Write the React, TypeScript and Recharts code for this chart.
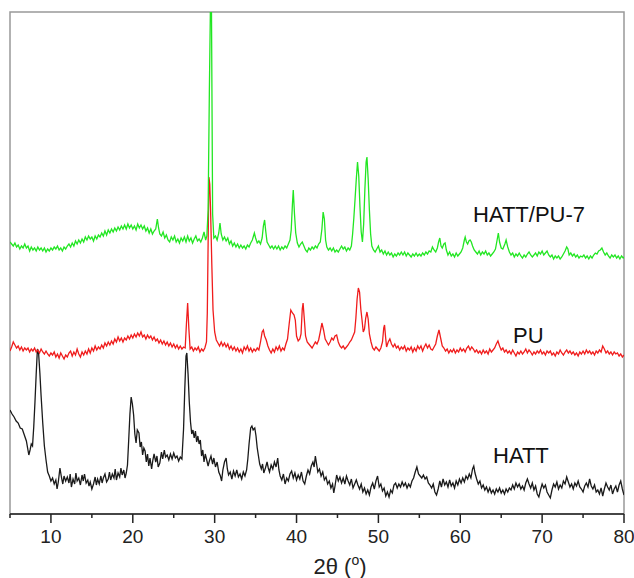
import React from 'react';
import { LineChart, Line, XAxis, YAxis, ReferenceArea } from 'recharts';

// 2θ (deg) vs intensity (arbitrary, patterns stacked with offsets)
const xTicks = [5, 10, 15, 20, 25, 30, 35, 40, 45, 50, 55, 60, 65, 70, 75, 80];

const hattPoints: [number, number][] = [
  [5.0, 104], [5.25, 100], [5.5, 97], [5.75, 93], [6.0, 91], [6.25, 86], [6.5, 85], [6.75, 79], [7.0, 73], [7.15, 66],
  [7.3, 59], [7.45, 64], [7.6, 70], [7.75, 68], [7.9, 87], [8.05, 112], [8.2, 140], [8.35, 165], [8.5, 160], [8.65, 141],
  [8.8, 118], [9.0, 91], [9.2, 68], [9.4, 54], [9.6, 42], [9.8, 38], [10.0, 33], [10.2, 36], [10.4, 30], [10.6, 34],
  [10.75, 25], [10.9, 32], [11.1, 46], [11.3, 36], [11.45, 30], [11.6, 38], [11.8, 33], [12.0, 37], [12.2, 31], [12.35, 40],
  [12.5, 27], [12.7, 35], [12.9, 30], [13.05, 41], [13.2, 33], [13.4, 36], [13.6, 29], [13.8, 39], [13.95, 33], [14.1, 40],
  [14.3, 31], [14.5, 34], [14.65, 28], [14.8, 32], [15.0, 25], [15.2, 30], [15.4, 37], [15.55, 29], [15.7, 35], [15.9, 30],
  [16.1, 38], [16.25, 31], [16.4, 36], [16.6, 40], [16.8, 32], [17.0, 35], [17.15, 42], [17.3, 34], [17.5, 40], [17.7, 36],
  [17.85, 45], [18.0, 34], [18.2, 41], [18.4, 37], [18.55, 46], [18.7, 39], [18.9, 44], [19.05, 36], [19.2, 41], [19.35, 49],
  [19.5, 74], [19.65, 100], [19.8, 117], [19.95, 110], [20.1, 99], [20.25, 80], [20.4, 71], [20.55, 84], [20.75, 81], [20.9, 67],
  [21.05, 72], [21.2, 59], [21.35, 66], [21.5, 63], [21.65, 52], [21.8, 60], [21.95, 48], [22.1, 56], [22.3, 45], [22.45, 54],
  [22.6, 60], [22.8, 52], [22.95, 58], [23.1, 47], [23.3, 51], [23.5, 62], [23.65, 55], [23.85, 64], [24.0, 57], [24.2, 59],
  [24.4, 54], [24.6, 60], [24.8, 55], [25.0, 61], [25.2, 56], [25.4, 58], [25.6, 53], [25.8, 57], [26.0, 55], [26.2, 85],
  [26.35, 125], [26.5, 158], [26.6, 161], [26.75, 140], [26.9, 112], [27.05, 92], [27.2, 80], [27.35, 84], [27.5, 76], [27.65, 83],
  [27.8, 72], [27.95, 78], [28.1, 70], [28.25, 74], [28.4, 58], [28.55, 64], [28.7, 52], [28.85, 60], [29.0, 55], [29.2, 48],
  [29.35, 53], [29.55, 58], [29.75, 50], [29.9, 56], [30.1, 47], [30.3, 52], [30.5, 42], [30.7, 38], [30.85, 33], [31.0, 44],
  [31.2, 52], [31.4, 56], [31.55, 45], [31.7, 39], [31.9, 42], [32.1, 35], [32.3, 43], [32.5, 38], [32.7, 44], [32.9, 37],
  [33.1, 40], [33.3, 35], [33.5, 42], [33.7, 38], [33.9, 44], [34.05, 55], [34.2, 70], [34.4, 86], [34.55, 88], [34.7, 84],
  [34.9, 86], [35.05, 78], [35.2, 66], [35.35, 58], [35.5, 50], [35.7, 45], [35.85, 50], [36.0, 41], [36.2, 46], [36.4, 52],
  [36.55, 46], [36.7, 42], [36.9, 49], [37.1, 45], [37.3, 52], [37.5, 47], [37.7, 56], [37.85, 44], [38.0, 38], [38.2, 34],
  [38.4, 40], [38.6, 30], [38.8, 36], [39.0, 33], [39.2, 40], [39.4, 43], [39.6, 36], [39.8, 41], [40.0, 34], [40.2, 39],
  [40.4, 35], [40.6, 42], [40.8, 33], [41.0, 30], [41.2, 38], [41.4, 44], [41.6, 40], [41.8, 48], [42.0, 52], [42.15, 47],
  [42.3, 58], [42.45, 50], [42.6, 42], [42.8, 45], [43.0, 38], [43.2, 42], [43.4, 34], [43.6, 37], [43.8, 30], [44.0, 33],
  [44.2, 26], [44.4, 30], [44.55, 21], [44.7, 28], [44.9, 39], [45.1, 33], [45.3, 37], [45.5, 31], [45.7, 36], [45.9, 30],
  [46.1, 38], [46.3, 33], [46.5, 29], [46.7, 35], [46.9, 26], [47.1, 30], [47.3, 34], [47.5, 29], [47.7, 25], [47.9, 30],
  [48.1, 22], [48.3, 26], [48.5, 20], [48.7, 24], [48.9, 19], [49.1, 27], [49.3, 31], [49.5, 25], [49.7, 33], [49.9, 38],
  [50.1, 27], [50.3, 30], [50.5, 23], [50.7, 26], [50.9, 18], [51.1, 22], [51.3, 17], [51.5, 24], [51.7, 21], [51.9, 29],
  [52.1, 31], [52.3, 26], [52.5, 30], [52.7, 27], [52.9, 32], [53.1, 28], [53.3, 31], [53.5, 26], [53.7, 30], [53.9, 27],
  [54.1, 33], [54.3, 36], [54.5, 42], [54.7, 47], [54.9, 40], [55.1, 38], [55.3, 36], [55.5, 39], [55.7, 35], [55.9, 37],
  [56.1, 31], [56.3, 29], [56.5, 26], [56.7, 30], [56.9, 22], [57.1, 19], [57.3, 25], [57.5, 33], [57.7, 27], [57.9, 35],
  [58.1, 29], [58.3, 32], [58.5, 27], [58.7, 34], [58.9, 28], [59.1, 31], [59.3, 26], [59.5, 33], [59.7, 29], [59.9, 35],
  [60.1, 31], [60.3, 36], [60.5, 32], [60.7, 38], [60.9, 35], [61.1, 40], [61.3, 36], [61.5, 45], [61.65, 48], [61.8, 41],
  [62.0, 35], [62.2, 30], [62.4, 33], [62.6, 26], [62.8, 29], [63.0, 24], [63.2, 27], [63.4, 22], [63.6, 26], [63.8, 21],
  [64.0, 24], [64.2, 20], [64.4, 25], [64.6, 22], [64.8, 26], [65.0, 21], [65.2, 24], [65.4, 20], [65.6, 25], [65.8, 22],
  [66.0, 26], [66.2, 24], [66.4, 29], [66.6, 25], [66.8, 31], [67.0, 27], [67.2, 30], [67.4, 25], [67.6, 28], [67.8, 24],
  [68.0, 31], [68.2, 35], [68.4, 30], [68.6, 26], [68.8, 31], [69.0, 24], [69.2, 28], [69.4, 20], [69.6, 17], [69.8, 24],
  [70.0, 30], [70.2, 26], [70.4, 29], [70.6, 22], [70.8, 19], [71.0, 16], [71.2, 24], [71.4, 30], [71.6, 27], [71.8, 32],
  [72.0, 25], [72.2, 29], [72.4, 26], [72.6, 33], [72.8, 30], [73.0, 37], [73.2, 32], [73.4, 27], [73.6, 30], [73.8, 25],
  [74.0, 31], [74.2, 28], [74.4, 33], [74.6, 27], [74.8, 25], [75.0, 22], [75.2, 28], [75.4, 31], [75.6, 27], [75.8, 35],
  [76.0, 28], [76.2, 25], [76.4, 29], [76.6, 22], [76.8, 24], [77.0, 20], [77.2, 26], [77.4, 18], [77.6, 25], [77.8, 31],
  [78.0, 27], [78.2, 24], [78.4, 29], [78.6, 20], [78.8, 25], [79.0, 28], [79.2, 22], [79.4, 29], [79.6, 33], [79.8, 25],
  [80.0, 19],
];

const puPoints: [number, number][] = [
  [5.0, 163], [5.2, 167], [5.4, 172], [5.6, 169], [5.8, 166], [6.0, 168], [6.2, 164], [6.4, 167], [6.6, 163], [6.8, 166],
  [7.0, 164], [7.2, 166], [7.4, 162], [7.6, 165], [7.8, 163], [8.0, 166], [8.2, 162], [8.4, 164], [8.6, 161], [8.8, 165],
  [9.0, 162], [9.2, 160], [9.4, 163], [9.6, 160], [9.8, 158], [10.0, 161], [10.2, 159], [10.4, 162], [10.6, 157], [10.8, 160],
  [11.0, 156], [11.2, 161], [11.4, 158], [11.6, 155], [11.8, 159], [12.0, 157], [12.2, 161], [12.4, 163], [12.6, 158], [12.8, 162],
  [13.0, 159], [13.2, 165], [13.4, 160], [13.6, 157], [13.8, 162], [14.0, 159], [14.2, 163], [14.4, 160], [14.6, 165], [14.8, 161],
  [15.0, 166], [15.2, 163], [15.4, 168], [15.6, 164], [15.8, 167], [16.0, 165], [16.2, 169], [16.4, 166], [16.6, 171], [16.8, 168],
  [17.0, 172], [17.2, 169], [17.4, 173], [17.6, 170], [17.8, 175], [18.0, 172], [18.2, 177], [18.4, 173], [18.6, 176], [18.8, 172],
  [19.0, 176], [19.2, 174], [19.4, 178], [19.6, 175], [19.8, 179], [20.0, 176], [20.2, 180], [20.4, 177], [20.6, 181], [20.8, 178],
  [21.0, 182], [21.2, 177], [21.4, 179], [21.6, 175], [21.8, 179], [22.0, 176], [22.2, 178], [22.4, 174], [22.6, 177], [22.8, 173],
  [23.0, 175], [23.2, 171], [23.4, 174], [23.6, 170], [23.8, 173], [24.0, 169], [24.2, 172], [24.4, 168], [24.6, 171], [24.8, 167],
  [25.0, 170], [25.2, 166], [25.4, 169], [25.6, 165], [25.8, 168], [26.0, 165], [26.2, 167], [26.4, 166], [26.55, 190], [26.7, 211],
  [26.85, 185], [27.0, 165], [27.2, 167], [27.4, 163], [27.6, 166], [27.8, 164], [28.0, 167], [28.2, 162], [28.4, 165], [28.6, 163],
  [28.8, 166], [29.0, 172], [29.1, 201], [29.2, 270], [29.3, 337], [29.4, 330], [29.5, 304], [29.65, 250], [29.8, 204], [30.0, 182],
  [30.2, 174], [30.4, 171], [30.6, 168], [30.8, 172], [31.0, 168], [31.2, 171], [31.4, 167], [31.6, 170], [31.8, 165], [32.0, 168],
  [32.2, 164], [32.4, 167], [32.6, 163], [32.8, 166], [33.0, 162], [33.2, 165], [33.4, 161], [33.6, 167], [33.8, 164], [34.0, 168],
  [34.2, 163], [34.4, 166], [34.6, 162], [34.8, 165], [35.0, 163], [35.2, 166], [35.4, 164], [35.6, 172], [35.8, 182], [35.95, 184],
  [36.1, 178], [36.3, 174], [36.5, 168], [36.7, 164], [36.9, 161], [37.1, 165], [37.3, 162], [37.5, 167], [37.7, 164], [37.9, 168],
  [38.1, 163], [38.3, 166], [38.5, 164], [38.7, 170], [38.9, 175], [39.1, 190], [39.3, 204], [39.5, 201], [39.7, 199], [39.85, 194],
  [40.0, 178], [40.2, 173], [40.4, 175], [40.55, 180], [40.7, 205], [40.8, 211], [40.95, 195], [41.1, 178], [41.3, 172], [41.5, 170],
  [41.7, 168], [41.9, 166], [42.1, 169], [42.3, 172], [42.5, 170], [42.7, 174], [42.9, 182], [43.1, 191], [43.3, 184], [43.5, 175],
  [43.7, 172], [43.9, 169], [44.1, 172], [44.3, 176], [44.5, 174], [44.7, 178], [44.9, 179], [45.1, 172], [45.3, 168], [45.5, 166],
  [45.7, 168], [45.9, 165], [46.1, 167], [46.3, 169], [46.5, 172], [46.7, 174], [46.9, 178], [47.1, 182], [47.25, 196], [47.4, 215],
  [47.55, 226], [47.7, 222], [47.85, 205], [48.0, 194], [48.15, 182], [48.3, 185], [48.45, 196], [48.6, 202], [48.75, 195], [48.9, 180],
  [49.1, 172], [49.3, 166], [49.5, 164], [49.7, 167], [49.9, 165], [50.1, 163], [50.3, 166], [50.5, 172], [50.65, 186], [50.75, 189],
  [50.9, 175], [51.0, 167], [51.2, 172], [51.4, 175], [51.6, 170], [51.8, 167], [52.0, 170], [52.2, 166], [52.4, 168], [52.6, 164],
  [52.8, 167], [53.0, 165], [53.2, 168], [53.4, 163], [53.6, 166], [53.8, 164], [54.0, 167], [54.2, 162], [54.4, 166], [54.6, 163],
  [54.8, 168], [55.0, 165], [55.2, 168], [55.4, 163], [55.6, 167], [55.8, 170], [56.0, 166], [56.2, 169], [56.4, 165], [56.6, 164],
  [56.8, 167], [57.0, 170], [57.2, 178], [57.4, 184], [57.6, 176], [57.8, 168], [58.0, 166], [58.2, 163], [58.4, 165], [58.6, 161],
  [58.8, 164], [59.0, 162], [59.2, 165], [59.4, 161], [59.6, 164], [59.8, 162], [60.0, 166], [60.2, 163], [60.4, 165], [60.6, 162],
  [60.8, 166], [61.0, 168], [61.2, 164], [61.4, 167], [61.6, 165], [61.8, 162], [62.0, 164], [62.2, 161], [62.4, 163], [62.6, 160],
  [62.8, 164], [63.0, 161], [63.2, 163], [63.4, 160], [63.6, 165], [63.8, 162], [64.0, 164], [64.2, 166], [64.4, 170], [64.6, 173],
  [64.8, 168], [65.0, 164], [65.2, 166], [65.4, 162], [65.6, 164], [65.8, 161], [66.0, 163], [66.2, 160], [66.4, 164], [66.6, 161],
  [66.8, 158], [67.0, 162], [67.2, 160], [67.4, 163], [67.6, 160], [67.8, 162], [68.0, 165], [68.2, 161], [68.4, 164], [68.6, 162],
  [68.8, 159], [69.0, 162], [69.2, 160], [69.4, 163], [69.6, 161], [69.8, 164], [70.0, 160], [70.2, 162], [70.4, 159], [70.6, 163],
  [70.8, 161], [71.0, 163], [71.2, 159], [71.4, 161], [71.6, 158], [71.8, 162], [72.0, 160], [72.2, 164], [72.4, 161], [72.6, 159],
  [72.8, 162], [73.0, 164], [73.2, 161], [73.4, 163], [73.6, 160], [73.8, 162], [74.0, 159], [74.2, 161], [74.4, 158], [74.6, 162],
  [74.8, 160], [75.0, 163], [75.2, 160], [75.4, 164], [75.6, 161], [75.8, 163], [76.0, 160], [76.2, 162], [76.4, 159], [76.6, 163],
  [76.8, 161], [77.0, 164], [77.2, 162], [77.4, 168], [77.6, 165], [77.8, 161], [78.0, 163], [78.2, 160], [78.4, 162], [78.6, 159],
  [78.8, 162], [79.0, 160], [79.2, 161], [79.4, 158], [79.6, 160], [79.8, 157], [80.0, 159],
];

const hattPu7Points: [number, number][] = [
  [5.0, 272], [5.2, 270], [5.4, 268], [5.6, 271], [5.8, 267], [6.0, 269], [6.2, 265], [6.4, 268], [6.6, 266], [6.8, 270],
  [7.0, 266], [7.2, 268], [7.4, 263], [7.6, 267], [7.8, 264], [8.0, 266], [8.2, 263], [8.4, 267], [8.6, 264], [8.8, 266],
  [9.0, 263], [9.2, 266], [9.4, 262], [9.6, 265], [9.8, 263], [10.0, 266], [10.2, 264], [10.4, 267], [10.6, 265], [10.8, 268],
  [11.0, 264], [11.2, 266], [11.4, 263], [11.6, 267], [11.8, 265], [12.0, 268], [12.2, 270], [12.4, 267], [12.6, 271], [12.8, 268],
  [13.0, 273], [13.2, 270], [13.4, 274], [13.6, 271], [13.8, 275], [14.0, 272], [14.2, 277], [14.4, 274], [14.6, 278], [14.8, 275],
  [15.0, 277], [15.2, 273], [15.4, 278], [15.6, 275], [15.8, 279], [16.0, 277], [16.2, 281], [16.4, 278], [16.6, 283], [16.8, 279],
  [17.0, 284], [17.2, 281], [17.4, 285], [17.6, 282], [17.8, 286], [18.0, 283], [18.2, 287], [18.4, 284], [18.6, 288], [18.8, 285],
  [19.0, 289], [19.2, 285], [19.4, 290], [19.6, 286], [19.8, 289], [20.0, 285], [20.2, 288], [20.4, 284], [20.6, 290], [20.8, 286],
  [21.0, 289], [21.2, 285], [21.4, 288], [21.6, 283], [21.8, 286], [22.0, 281], [22.2, 285], [22.4, 280], [22.6, 283], [22.8, 285],
  [23.0, 295], [23.15, 286], [23.3, 280], [23.5, 278], [23.7, 282], [23.9, 276], [24.1, 279], [24.3, 274], [24.5, 272], [24.7, 277],
  [24.9, 274], [25.1, 278], [25.3, 272], [25.5, 275], [25.7, 271], [25.9, 276], [26.1, 273], [26.3, 277], [26.5, 272], [26.7, 278],
  [26.9, 273], [27.1, 276], [27.3, 271], [27.5, 275], [27.7, 278], [27.9, 273], [28.1, 275], [28.3, 272], [28.5, 276], [28.7, 282],
  [28.9, 274], [29.05, 278], [29.2, 304], [29.35, 421], [29.5, 520], [29.6, 520], [29.75, 300], [29.9, 276], [30.1, 278], [30.3, 274],
  [30.5, 281], [30.65, 291], [30.8, 280], [31.0, 274], [31.2, 277], [31.4, 273], [31.6, 276], [31.8, 270], [32.0, 273], [32.2, 268],
  [32.4, 271], [32.6, 267], [32.8, 270], [33.0, 266], [33.2, 269], [33.4, 266], [33.6, 268], [33.8, 265], [34.0, 269], [34.2, 267],
  [34.4, 271], [34.6, 274], [34.85, 281], [35.0, 276], [35.2, 271], [35.4, 273], [35.6, 270], [35.8, 276], [35.95, 288], [36.1, 294],
  [36.25, 282], [36.4, 272], [36.6, 269], [36.8, 266], [37.0, 268], [37.2, 265], [37.4, 268], [37.6, 265], [37.8, 268], [38.0, 264],
  [38.2, 267], [38.4, 265], [38.6, 268], [38.8, 266], [39.0, 270], [39.2, 274], [39.35, 284], [39.5, 310], [39.6, 324], [39.75, 300],
  [39.9, 281], [40.1, 271], [40.3, 267], [40.5, 270], [40.7, 272], [40.9, 268], [41.1, 264], [41.3, 262], [41.5, 266], [41.7, 264],
  [41.9, 267], [42.1, 265], [42.3, 268], [42.5, 266], [42.7, 270], [42.9, 272], [43.1, 285], [43.25, 302], [43.4, 295], [43.55, 274],
  [43.7, 267], [43.9, 264], [44.1, 266], [44.3, 263], [44.5, 266], [44.7, 262], [44.9, 264], [45.1, 262], [45.3, 265], [45.5, 268],
  [45.7, 265], [45.9, 267], [46.1, 263], [46.3, 266], [46.5, 264], [46.7, 268], [46.85, 280], [47.0, 296], [47.15, 315], [47.3, 335],
  [47.45, 352], [47.6, 338], [47.75, 307], [47.9, 282], [48.05, 272], [48.2, 290], [48.35, 325], [48.5, 352], [48.6, 357], [48.75, 335],
  [48.9, 304], [49.05, 280], [49.2, 268], [49.4, 264], [49.6, 262], [49.8, 265], [50.0, 268], [50.2, 262], [50.4, 264], [50.6, 260],
  [50.8, 263], [51.0, 259], [51.2, 262], [51.4, 259], [51.6, 261], [51.8, 257], [52.0, 260], [52.2, 258], [52.4, 261], [52.6, 259],
  [52.8, 262], [53.0, 259], [53.2, 262], [53.4, 258], [53.6, 261], [53.8, 259], [54.0, 257], [54.2, 260], [54.4, 258], [54.6, 261],
  [54.8, 258], [55.0, 260], [55.2, 258], [55.4, 261], [55.6, 259], [55.8, 262], [56.0, 260], [56.2, 263], [56.4, 262], [56.6, 267],
  [56.8, 264], [57.0, 262], [57.2, 266], [57.35, 272], [57.5, 276], [57.65, 268], [57.8, 266], [58.0, 270], [58.15, 271], [58.3, 264],
  [58.5, 259], [58.7, 262], [58.9, 258], [59.1, 260], [59.3, 257], [59.5, 261], [59.7, 258], [59.9, 260], [60.1, 262], [60.3, 266],
  [60.5, 274], [60.6, 277], [60.75, 272], [60.9, 270], [61.05, 273], [61.2, 274], [61.35, 272], [61.5, 268], [61.7, 264], [61.9, 262],
  [62.1, 260], [62.3, 263], [62.5, 259], [62.7, 262], [62.9, 260], [63.1, 263], [63.3, 259], [63.5, 261], [63.7, 258], [63.9, 260],
  [64.1, 262], [64.3, 265], [64.5, 274], [64.65, 281], [64.8, 272], [65.0, 266], [65.2, 265], [65.45, 270], [65.6, 274], [65.8, 267],
  [66.0, 262], [66.2, 259], [66.4, 261], [66.6, 257], [66.8, 260], [67.0, 258], [67.2, 261], [67.4, 258], [67.6, 256], [67.8, 259],
  [68.0, 257], [68.2, 260], [68.4, 262], [68.6, 259], [68.8, 257], [69.0, 259], [69.2, 261], [69.4, 258], [69.6, 262], [69.8, 260],
  [70.0, 263], [70.2, 259], [70.4, 261], [70.6, 263], [70.8, 259], [71.0, 257], [71.2, 259], [71.4, 255], [71.6, 258], [71.8, 256],
  [72.0, 258], [72.2, 255], [72.4, 257], [72.6, 260], [72.8, 263], [73.0, 267], [73.15, 265], [73.3, 259], [73.5, 261], [73.7, 258],
  [73.9, 260], [74.1, 257], [74.3, 259], [74.5, 256], [74.7, 258], [74.9, 257], [75.1, 259], [75.3, 256], [75.5, 258], [75.7, 255],
  [75.9, 258], [76.1, 256], [76.3, 259], [76.5, 261], [76.7, 260], [76.9, 263], [77.1, 264], [77.3, 266], [77.5, 262], [77.7, 259],
  [77.9, 261], [78.1, 258], [78.3, 256], [78.5, 259], [78.7, 257], [78.9, 259], [79.1, 256], [79.3, 258], [79.5, 255], [79.7, 258],
  [79.9, 256], [80.0, 257],
];

const toRows = (pts: [number, number][]) => pts.map(([x, y]) => ({ x, y }));

const FONT = '"Liberation Sans", Arial, Helvetica, sans-serif';

const AxisTick = (props: any) => {
  const { x, y, payload } = props;
  const major = payload.value % 10 === 0;
  return (
    <g>
      <line x1={x} x2={x} y1={y} y2={y + (major ? 9 : 4)} stroke="#222" strokeWidth={1.5} />
      {major && (
        <text x={x} y={y + 29} textAnchor="middle" fontSize={19} fill="#222" fontFamily={FONT}>
          {payload.value}
        </text>
      )}
    </g>
  );
};

const AxisTitle = (props: any) => {
  const vb = props.viewBox || { x: 10, y: 514, width: 614 };
  return (
    <text x={vb.x + vb.width / 2 + 23} y={vb.y + 60} textAnchor="middle" fontSize={22} fill="#222" fontFamily={FONT}>
      2θ (<tspan dy={-9} fontSize={14}>o</tspan><tspan dy={9} fontSize={22}>)</tspan>
    </text>
  );
};

export default function App() {
  return (
    <div style={{ position: 'absolute', left: 0, top: 0, width: 634, height: 578, background: '#fff' }}>
      <LineChart width={634} height={578} margin={{ top: 12, right: 10, left: 10, bottom: 4 }}>
        <XAxis
          type="number"
          dataKey="x"
          domain={[5, 80]}
          ticks={xTicks}
          interval={0}
          allowDataOverflow
          tickLine={false}
          tickSize={0}
          tickMargin={0}
          height={60}
          axisLine={{ stroke: '#222', strokeWidth: 1.5 }}
          tick={<AxisTick />}
          label={{ content: <AxisTitle /> }}
        />
        <YAxis type="number" domain={[0, 502]} allowDataOverflow hide />
        <ReferenceArea x1={5} x2={80} y1={0} y2={502} fill="none" stroke="#999" strokeWidth={1.5} fillOpacity={0} />
        <Line data={toRows(hattPoints)} dataKey="y" type="linear" stroke="#1a1a1a" strokeWidth={1.3} dot={false} isAnimationActive={false} />
        <Line data={toRows(puPoints)} dataKey="y" type="linear" stroke="#f01c1c" strokeWidth={1.3} dot={false} isAnimationActive={false} />
        <Line data={toRows(hattPu7Points)} dataKey="y" type="linear" stroke="#22e622" strokeWidth={1.3} dot={false} isAnimationActive={false} />
      </LineChart>
      <svg width={634} height={578} style={{ position: 'absolute', left: 0, top: 0, pointerEvents: 'none' }}>
        <g fontFamily={FONT} fontSize={22} fill="#111">
          <text x={473} y={222}>HATT/PU-7</text>
          <text x={513} y={343}>PU</text>
          <text x={493} y={463}>HATT</text>
        </g>
      </svg>
    </div>
  );
}
